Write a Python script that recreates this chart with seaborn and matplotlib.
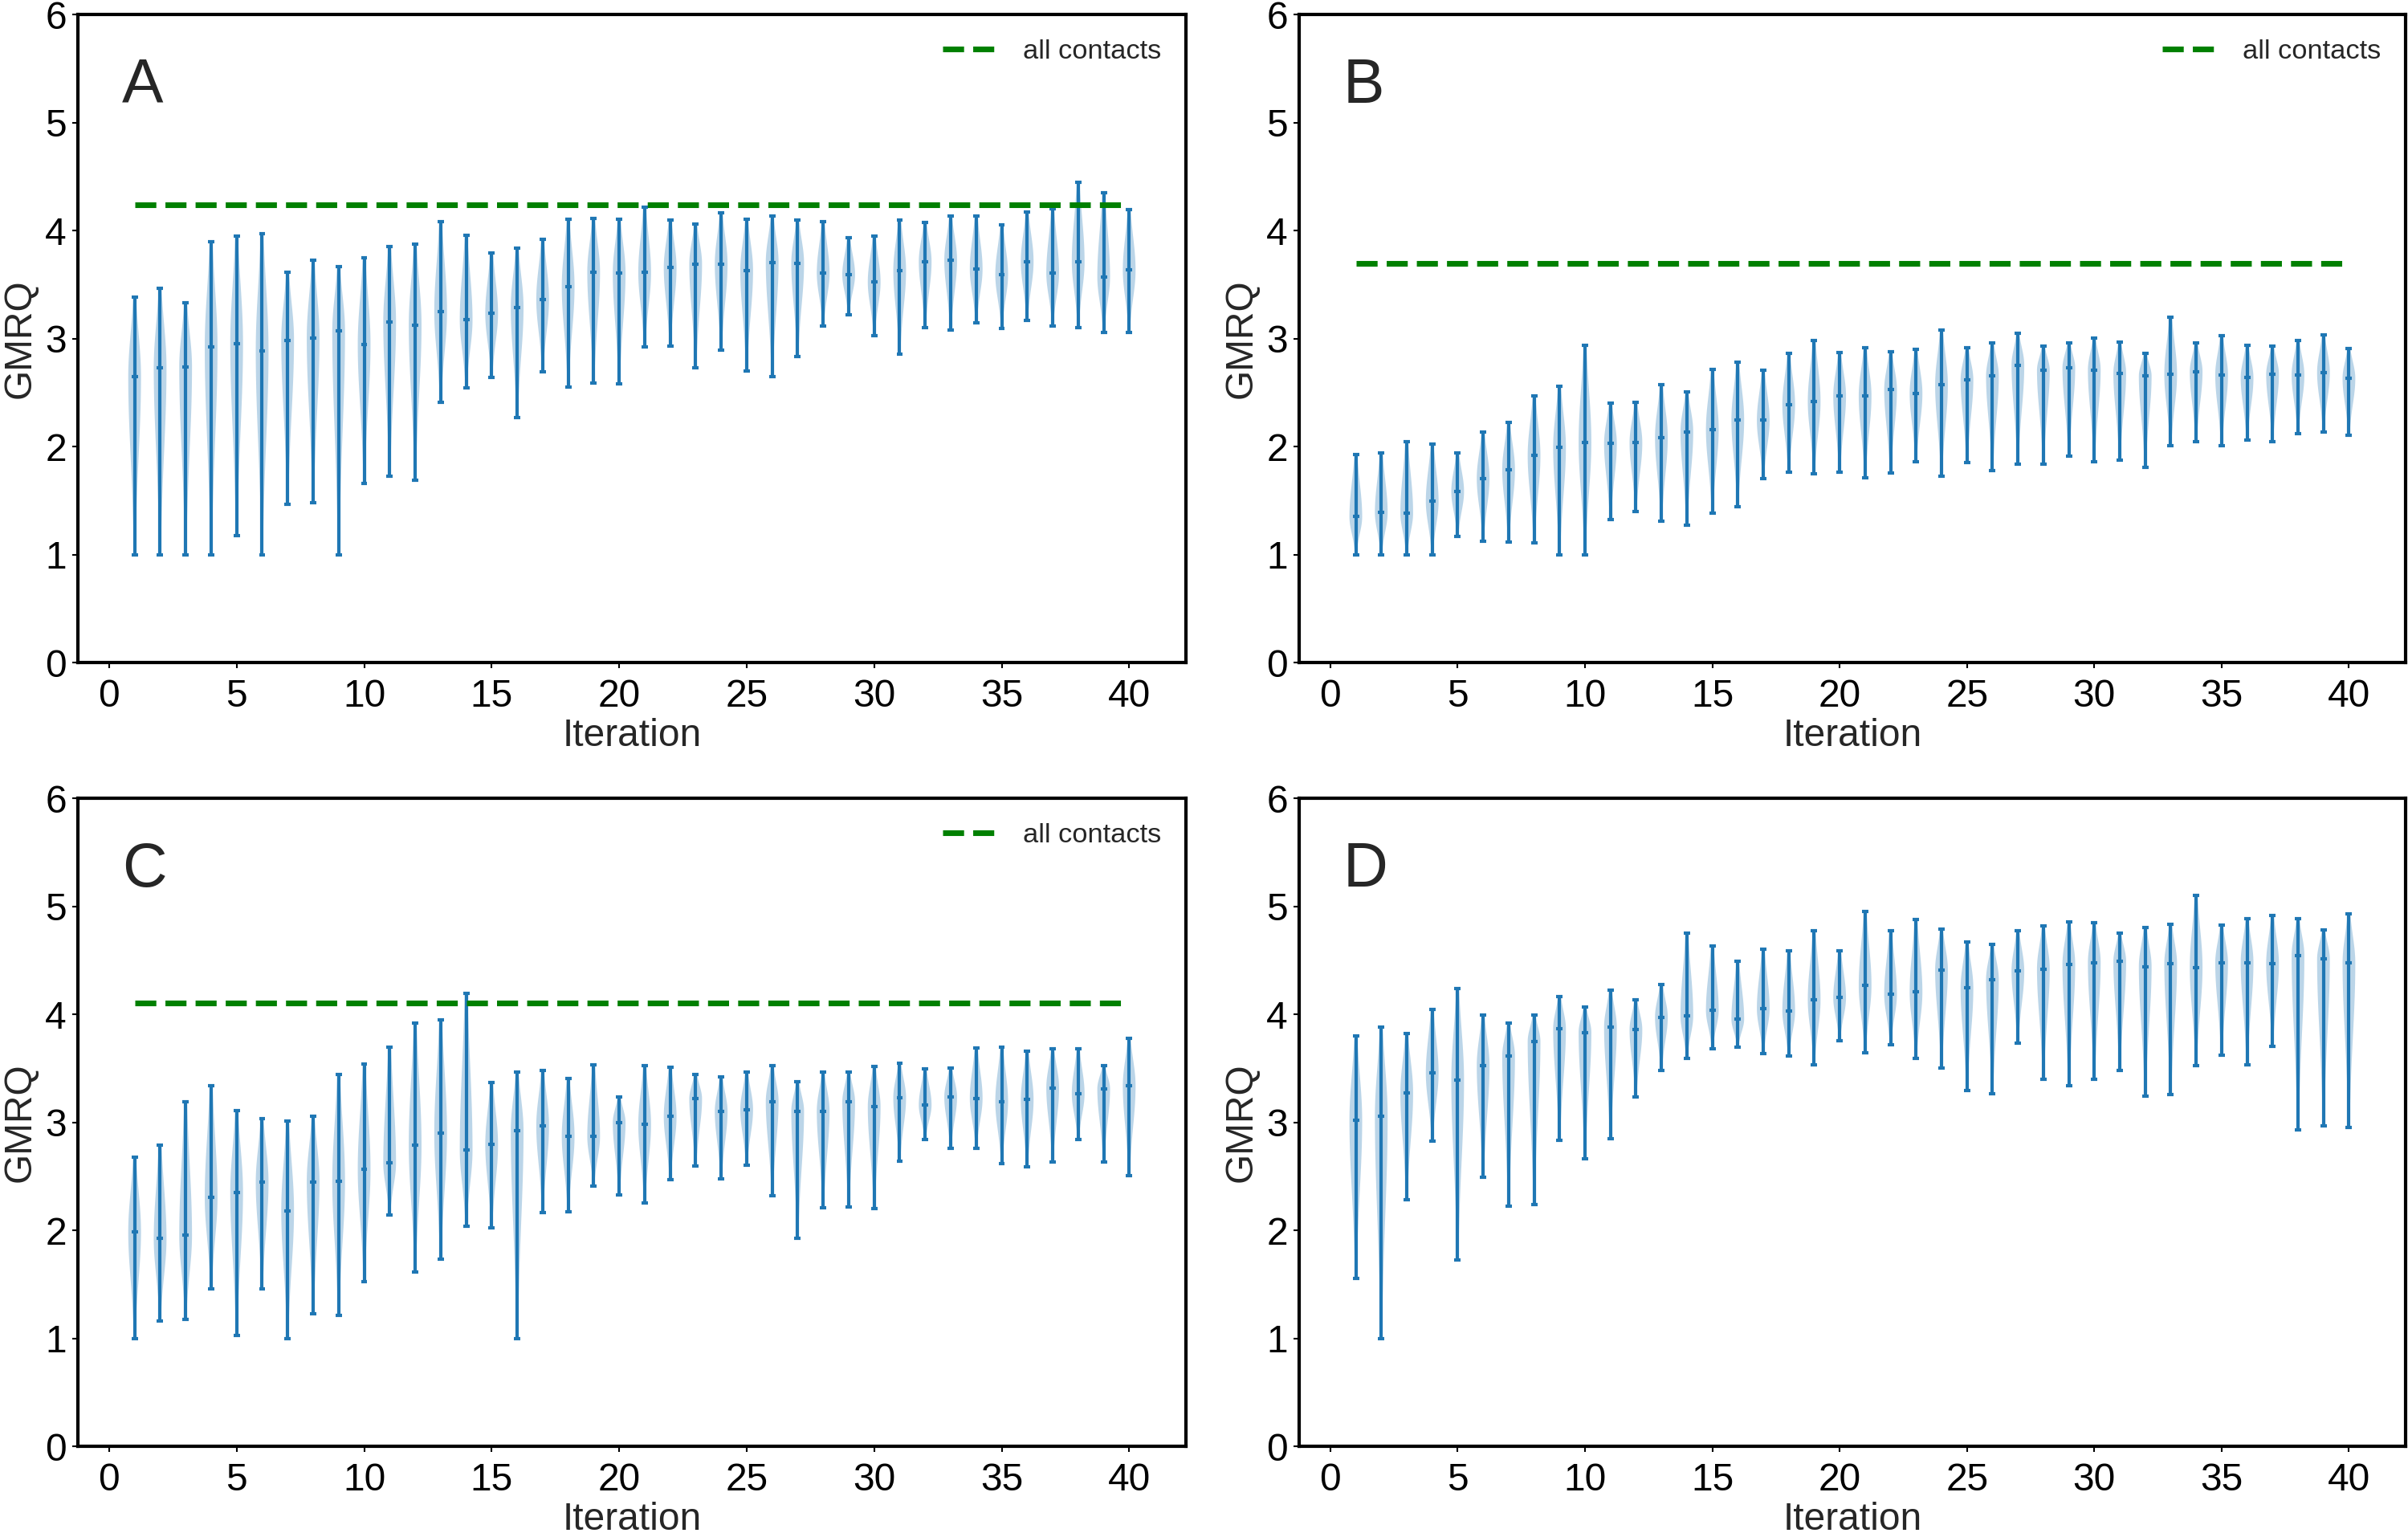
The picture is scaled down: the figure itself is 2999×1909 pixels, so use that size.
import numpy as np
import matplotlib
matplotlib.use("Agg")
import matplotlib.pyplot as plt
import seaborn as sns

# ---------------- data ----------------
iterations = list(range(1, 41))

A_max = [3.385, 3.465, 3.336, 3.90, 3.951, 3.976, 3.618, 3.726, 3.669, 3.749,
         3.854, 3.877, 4.084, 3.956, 3.795, 3.841, 3.92, 4.105, 4.117, 4.11,
         4.215, 4.102, 4.064, 4.166, 4.106, 4.135, 4.10, 4.087, 3.935, 3.954,
         4.10, 4.08, 4.135, 4.14, 4.056, 4.176, 4.207, 4.45, 4.353, 4.197]
A_med = [2.648, 2.732, 2.737, 2.924, 2.958, 2.889, 2.988, 3.009, 3.07, 2.95,
         3.157, 3.126, 3.252, 3.178, 3.234, 3.29, 3.364, 3.485, 3.618, 3.61,
         3.616, 3.659, 3.69, 3.69, 3.634, 3.708, 3.70, 3.61, 3.595, 3.526,
         3.633, 3.713, 3.726, 3.646, 3.594, 3.715, 3.61, 3.715, 3.575, 3.636]
A_min = [1.0, 1.0, 1.0, 1.0, 1.178, 1.0, 1.47, 1.48, 1.0, 1.662,
         1.726, 1.692, 2.41, 2.545, 2.64, 2.268, 2.696, 2.555, 2.591, 2.581,
         2.922, 2.934, 2.732, 2.896, 2.704, 2.648, 2.832, 3.121, 3.226, 3.029,
         2.86, 3.106, 3.083, 3.147, 3.098, 3.17, 3.12, 3.106, 3.057, 3.06]

B_max = [1.927, 1.942, 2.05, 2.027, 1.94, 2.14, 2.227, 2.472, 2.564, 2.938,
         2.408, 2.41, 2.575, 2.506, 2.716, 2.787, 2.708, 2.864, 2.987, 2.872,
         2.921, 2.882, 2.905, 3.084, 2.92, 2.964, 3.049, 2.931, 2.964, 3.005,
         2.967, 2.867, 3.202, 2.964, 3.028, 2.938, 2.931, 2.984, 3.038, 2.913]
B_med = [1.353, 1.392, 1.387, 1.494, 1.587, 1.707, 1.789, 1.919, 1.996, 2.042,
         2.03, 2.037, 2.086, 2.14, 2.16, 2.25, 2.245, 2.39, 2.421, 2.472,
         2.472, 2.529, 2.495, 2.572, 2.621, 2.654, 2.757, 2.708, 2.729, 2.712,
         2.682, 2.654, 2.67, 2.695, 2.665, 2.639, 2.67, 2.665, 2.688, 2.633]
B_min = [1.0, 1.0, 1.0, 1.0, 1.172, 1.128, 1.116, 1.11, 1.0, 1.0,
         1.323, 1.402, 1.312, 1.277, 1.387, 1.445, 1.702, 1.763, 1.75, 1.763,
         1.715, 1.761, 1.863, 1.727, 1.853, 1.781, 1.842, 1.842, 1.914, 1.863,
         1.878, 1.812, 2.007, 2.045, 2.007, 2.065, 2.05, 2.124, 2.135, 2.106]

C_max = [2.679, 2.79, 3.196, 3.342, 3.112, 3.035, 3.012, 3.056, 3.445, 3.542,
         3.698, 3.921, 3.952, 4.2, 3.373, 3.468, 3.48, 3.409, 3.532, 3.237,
         3.524, 3.514, 3.447, 3.42, 3.464, 3.527, 3.378, 3.464, 3.468, 3.519,
         3.549, 3.499, 3.507, 3.693, 3.698, 3.662, 3.683, 3.683, 3.524, 3.78]
C_med = [1.988, 1.926, 1.957, 2.305, 2.354, 2.446, 2.185, 2.452, 2.456, 2.567,
         2.628, 2.792, 2.9, 2.746, 2.795, 2.925, 2.969, 2.874, 2.874, 2.999,
         2.981, 3.058, 3.219, 3.102, 3.12, 3.194, 3.107, 3.107, 3.19, 3.145,
         3.23, 3.163, 3.237, 3.225, 3.194, 3.212, 3.322, 3.268, 3.312, 3.34]
C_min = [1.0, 1.166, 1.176, 1.458, 1.03, 1.458, 1.0, 1.233, 1.215, 1.529,
         2.147, 1.616, 1.732, 2.042, 2.026, 1.0, 2.17, 2.175, 2.413, 2.329,
         2.254, 2.469, 2.597, 2.482, 2.602, 2.32, 1.931, 2.21, 2.22, 2.205,
         2.646, 2.845, 2.764, 2.762, 2.62, 2.59, 2.636, 2.84, 2.638, 2.51]

D_max = [3.799, 3.883, 3.824, 4.05, 4.239, 3.996, 3.922, 3.996, 4.167, 4.068,
         4.226, 4.137, 4.28, 4.752, 4.636, 4.495, 4.603, 4.59, 4.775, 4.59,
         4.956, 4.775, 4.877, 4.792, 4.672, 4.651, 4.775, 4.818, 4.856, 4.848,
         4.752, 4.805, 4.833, 5.102, 4.83, 4.887, 4.918, 4.887, 4.787, 4.933]
D_med = [3.018, 3.056, 3.274, 3.458, 3.392, 3.527, 3.617, 3.75, 3.868, 3.835,
         3.883, 3.86, 3.975, 3.991, 4.04, 3.958, 4.057, 4.034, 4.137, 4.157,
         4.27, 4.19, 4.208, 4.413, 4.245, 4.323, 4.403, 4.423, 4.465, 4.482,
         4.493, 4.444, 4.47, 4.434, 4.477, 4.482, 4.47, 4.546, 4.513, 4.477]
D_min = [1.555, 1.0, 2.283, 2.831, 1.727, 2.49, 2.227, 2.242, 2.836, 2.665,
         2.851, 3.236, 3.486, 3.596, 3.683, 3.699, 3.635, 3.614, 3.535, 3.761,
         3.645, 3.724, 3.591, 3.507, 3.297, 3.269, 3.737, 3.402, 3.34, 3.40,
         3.486, 3.248, 3.26, 3.525, 3.622, 3.532, 3.709, 2.933, 2.969, 2.956]

panel_labels = ["A", "B", "C", "D"]
all_contacts = [4.24, 3.70, 4.11, None]
x_ticks = [0, 5, 10, 15, 20, 25, 30, 35, 40]
y_ticks = [0, 1, 2, 3, 4, 5, 6]

panels = [(A_min, A_med, A_max), (B_min, B_med, B_max),
          (C_min, C_med, C_max), (D_min, D_med, D_max)]

# ---------------- style ----------------
sns.set_style("ticks")
plt.rcParams['font.family'] = ['Liberation Sans', 'DejaVu Sans']
plt.rcParams['axes.linewidth'] = 1.0
plt.rcParams['xtick.major.size'] = 1.6
plt.rcParams['ytick.major.size'] = 1.6
plt.rcParams['xtick.major.width'] = 0.5
plt.rcParams['ytick.major.width'] = 0.5
plt.rcParams['axes.edgecolor'] = 'black'
plt.rcParams['xtick.color'] = 'black'
plt.rcParams['ytick.color'] = 'black'

BLUE = '#1f77b4'

fig = plt.figure(figsize=(2999 / 300, 1909 / 300), dpi=300)
rects = [
    (97 / 2999, (1909 - 825.4) / 1909, 1380 / 2999, 807 / 1909),
    (1618 / 2999, (1909 - 825.4) / 1909, 1378 / 2999, 807 / 1909),
    (97 / 2999, (1909 - 1801.4) / 1909, 1380 / 2999, 807 / 1909),
    (1618 / 2999, (1909 - 1801.4) / 1909, 1378 / 2999, 807 / 1909),
]


def violin_stats(mins, meds, maxs):
    stats = []
    for lo, md, hi in zip(mins, meds, maxs):
        coords = np.linspace(lo, hi, 200)
        s_up = max(0.55 * (hi - md), 0.05)
        s_dn = max(0.45 * (md - lo), 0.05)
        s = np.where(coords >= md, s_up, s_dn)
        vals = np.exp(-0.5 * ((coords - md) / s) ** 2) + 0.04
        stats.append(dict(coords=coords, vals=vals, mean=md, median=md,
                          min=lo, max=hi, quantiles=[]))
    return stats


for rect, (mins, meds, maxs), lab, ref in zip(rects, panels, panel_labels,
                                              all_contacts):
    ax = fig.add_axes(rect)
    parts = ax.violin(violin_stats(mins, meds, maxs), positions=iterations,
                      widths=0.5, showmeans=False, showextrema=True,
                      showmedians=True)
    for b in parts['bodies']:
        b.set_facecolor(BLUE)
        b.set_edgecolor('none')
        b.set_alpha(0.3)
    for key in ('cmaxes', 'cmins', 'cbars', 'cmedians'):
        parts[key].set_color(BLUE)
        parts[key].set_linewidth(1.0)

    if ref is not None:
        sns.lineplot(x=[iterations[0], iterations[-1]], y=[ref, ref], ax=ax,
                     color='green', linestyle='--', linewidth=1.7,
                     label='all contacts', legend=False)
        ax.legend(loc='upper right', frameon=False, fontsize=8.25,
                  handlelength=2.0, handletextpad=0.9)

    ax.set_xlim(-1.225, 42.225)
    ax.set_ylim(0, 6)
    ax.set_xticks(x_ticks)
    ax.set_yticks(y_ticks)
    ax.tick_params(axis='x', labelsize=11.5, pad=3)
    ax.tick_params(axis='y', labelsize=11.5, pad=1.8)
    ax.set_xlabel('Iteration', fontsize=11.5, labelpad=1)
    ax.set_ylabel('GMRQ', fontsize=11.5, labelpad=2)
    for sp in ax.spines.values():
        sp.set_visible(True)
        sp.set_linewidth(1.0)
    ax.text(0.04, 0.935, lab, transform=ax.transAxes, fontsize=18.5,
            va='top', ha='left')

fig.savefig('out.png', dpi=300)
